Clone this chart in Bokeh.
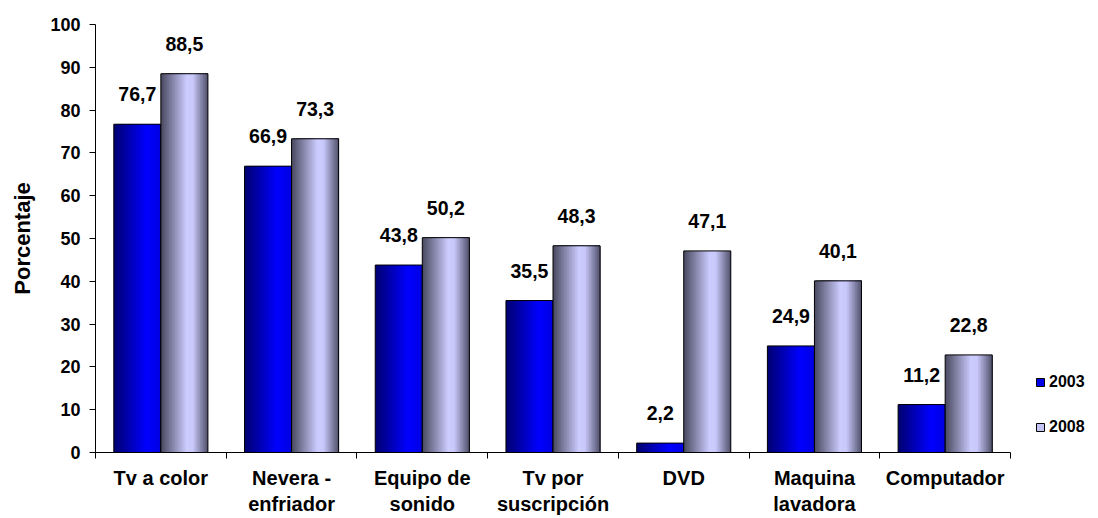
from bokeh.plotting import figure
from bokeh.models import (Range1d, LinearAxis, FixedTicker, ColumnDataSource,
                          Legend, LegendItem)
from bokeh.transform import dodge
from bokeh.core.properties import value
from bokeh.embed import file_html
from bokeh.resources import INLINE

# ---- data ----
categories = ["Tv a color", "Nevera -\nenfriador", "Equipo de\nsonido", "Tv por\nsuscripción",
              "DVD", "Maquina\nlavadora", "Computador"]
v2003 = [76.7, 66.9, 43.8, 35.5, 2.2, 24.9, 11.2]
v2008 = [88.5, 73.3, 50.2, 48.3, 47.1, 40.1, 22.8]
series = ["2003", "2008"]
y_ticks = list(range(0, 101, 10))

FONT = "Liberation Sans"
BW = 0.36      # bar width in category units
N = 30         # gradient stripes per bar
X_EXTRA = 0.673  # room on the right (in category units) for the legend


def hex2rgb(h):
    h = h.lstrip("#")
    return tuple(int(h[i:i + 2], 16) for i in (0, 2, 4))


def grad(stops, t):
    for (t0, c0), (t1, c1) in zip(stops, stops[1:]):
        if t0 <= t <= t1:
            f = (t - t0) / (t1 - t0) if t1 > t0 else 0
            a, b = hex2rgb(c0), hex2rgb(c1)
            return "#%02x%02x%02x" % tuple(round(a[k] + (b[k] - a[k]) * f) for k in range(3))
    return stops[-1][1]


stops03 = [(0.0, "#000070"), (0.7, "#0000ff"), (1.0, "#0000e0")]
stops08 = [(0.0, "#48485f"), (0.55, "#ccccff"), (0.68, "#c8c8fa"), (1.0, "#50506a")]

fmt = lambda v: ("%.1f" % v).replace(".", ",")
ncat = len(categories)
centers = [i + 0.5 for i in range(ncat)]
source = ColumnDataSource(dict(cat=categories, xc=centers,
                               v2003=v2003, v2008=v2008,
                               l2003=[fmt(v) for v in v2003], l2008=[fmt(v) for v in v2008]))

p = figure(width=1098, height=518,
           x_range=Range1d(0, ncat + X_EXTRA), y_range=Range1d(0, 100),
           output_backend="svg", toolbar_location=None,
           x_axis_location=None, y_axis_location=None,
           min_border_left=95, min_border_right=0, min_border_top=24, min_border_bottom=66)
p.outline_line_color = None
p.xgrid.visible = False
p.ygrid.visible = False
p.background_fill_color = "white"

# y axis
yaxis = LinearAxis(ticker=FixedTicker(ticks=y_ticks), axis_label="Porcentaje")
yaxis.major_tick_in = 0
yaxis.major_tick_out = 6
yaxis.minor_tick_line_color = None
yaxis.major_label_standoff = 9
yaxis.major_label_text_font = FONT
yaxis.major_label_text_font_style = "bold"
yaxis.major_label_text_font_size = "18px"
yaxis.major_label_text_color = "black"
yaxis.axis_label_text_font = FONT
yaxis.axis_label_text_font_style = "bold"
yaxis.axis_label_text_font_size = "22px"
yaxis.axis_label_text_color = "black"
yaxis.axis_label_standoff = 12
yaxis.axis_line_color = "black"
yaxis.major_tick_line_color = "black"
p.add_layout(yaxis, "left")

# x axis: labels at category centres, ticks (minor) at category boundaries
xaxis = LinearAxis(ticker=FixedTicker(ticks=centers, minor_ticks=list(range(ncat + 1))),
                   major_label_overrides={c: name for c, name in zip(centers, categories)},
                   bounds=(0, ncat))
xaxis.major_tick_line_color = None
xaxis.major_tick_in = 0
xaxis.major_tick_out = 0
xaxis.minor_tick_in = 0
xaxis.minor_tick_out = 6
xaxis.minor_tick_line_color = "black"
xaxis.axis_line_color = "black"
xaxis.major_label_standoff = 8
xaxis.major_label_text_font = FONT
xaxis.major_label_text_font_style = "bold"
xaxis.major_label_text_font_size = "20px"
xaxis.major_label_text_color = "black"
xaxis.major_label_text_line_height = 1.2
p.add_layout(xaxis, "below")

# bars with horizontal gradient (each stripe runs to the bar's right edge, drawn left to right)
w = BW / N
for col, stops, start in [("v2003", stops03, -BW), ("v2008", stops08, 0.0)]:
    for i in range(N):
        t = (i + 0.5) / N
        left = start + i * w
        right = start + BW
        p.vbar(x=dodge("xc", (left + right) / 2), top=col, bottom=0, width=right - left,
               source=source, fill_color=grad(stops, t), line_color=None)
    p.vbar(x=dodge("xc", start + BW / 2), top=col, bottom=0,
           width=BW, source=source, fill_color=None,
           line_color="black", line_width=1)

# value labels
for col, lab, off in [("v2003", "l2003", -BW / 2), ("v2008", "l2008", BW / 2)]:
    p.text(x=dodge("xc", off), y=col, text=lab, source=source,
           text_align="center", text_baseline="bottom", y_offset=-23,
           text_font=value(FONT), text_font_style="bold", text_font_size="19.5px",
           text_color="black")

# legend (swatch renderers with a single undrawn point)
nan = float("nan")
leg03 = p.vbar(x=[nan], top=[nan], width=0.1, fill_color="#0000e6", line_color="black")
leg08 = p.vbar(x=[nan], top=[nan], width=0.1, fill_color="#c4c4f4", line_color="black")
legend = Legend(items=[LegendItem(label=series[0], renderers=[leg03]),
                       LegendItem(label=series[1], renderers=[leg08])],
                location=(940, 15), orientation="vertical",
                glyph_width=10, glyph_height=10, label_standoff=4, spacing=25,
                label_height=20, padding=0, margin=0,
                border_line_color=None, background_fill_alpha=0,
                label_text_font=FONT, label_text_font_style="bold",
                label_text_font_size="16px", label_text_color="black")
p.add_layout(legend)

open("out.html", "w").write(file_html(p, INLINE))
